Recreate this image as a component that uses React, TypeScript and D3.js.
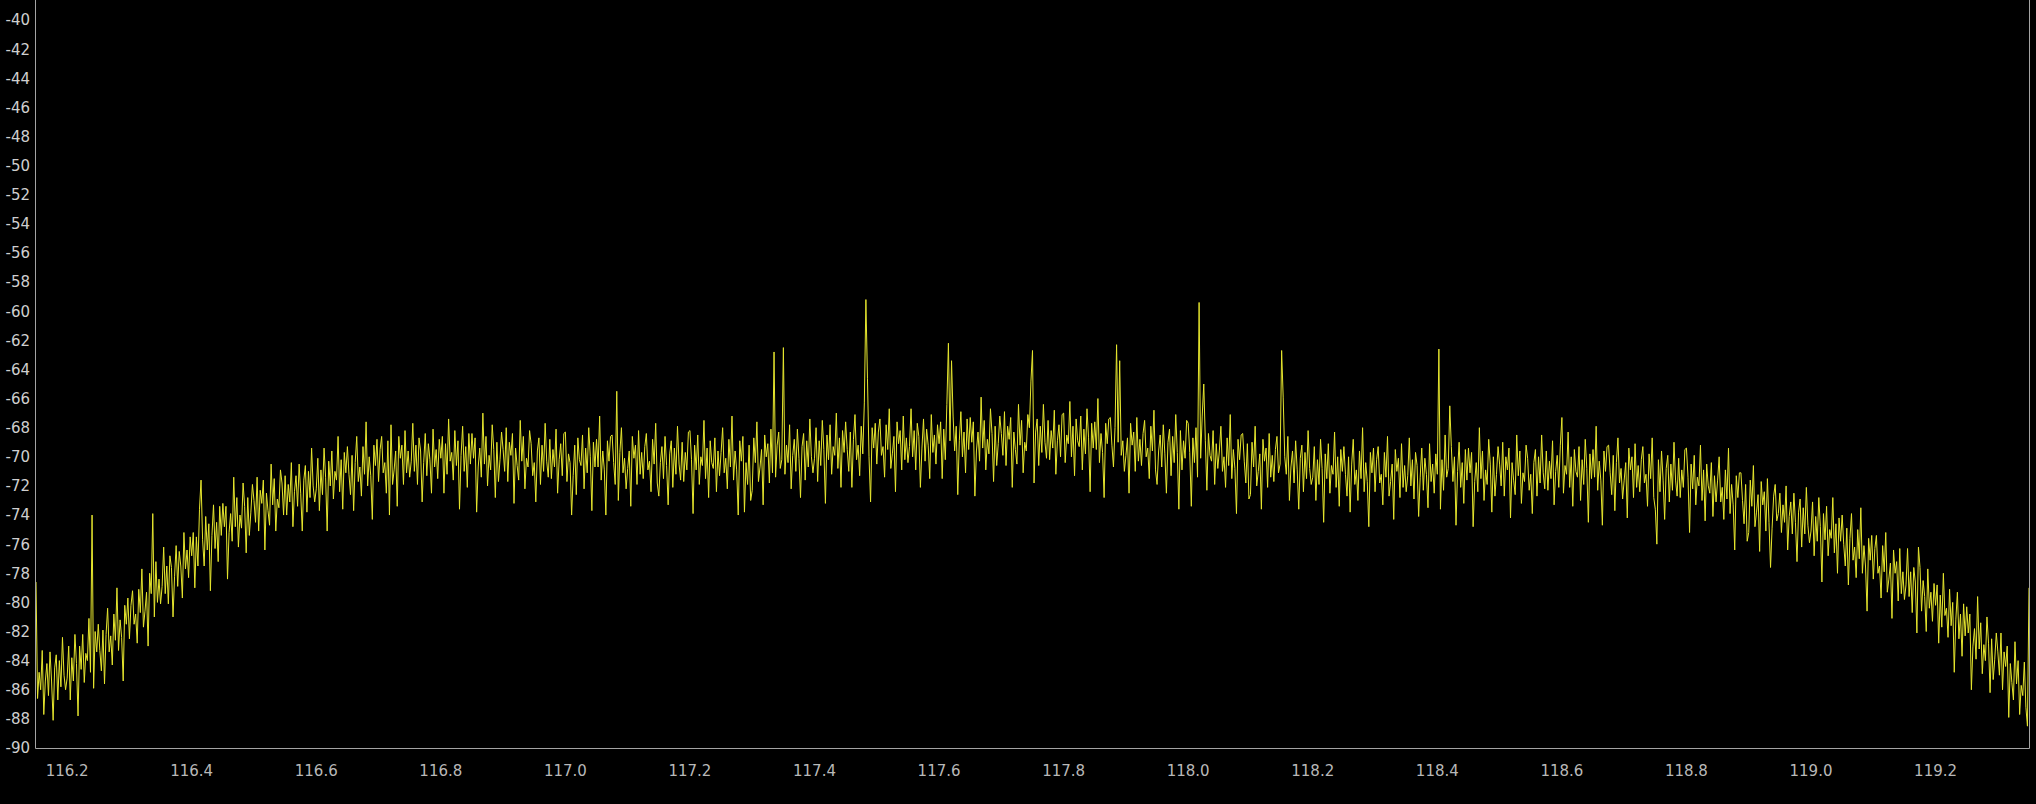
import React, { useEffect } from 'react';
import * as d3 from 'd3';

// Spectrum sweep: frequency (MHz) sampled every FREQ_STEP from FREQ_START, power in dB
const FREQ_START = 116.15;
const FREQ_STEP = 0.0025;
const FREQ_END = 119.35;

const powerDb: number[] = [
  -78.6,-86.6,-84.8,-86.0,-83.3,-87.7,-85.4,-84.2,-86.4,-83.4,-85.4,-88.1,-84.5,-83.6,-86.7,-84.0,-85.8,-82.4,-85.0,-86.0,
  -85.2,-83.0,-86.7,-83.8,-85.4,-82.2,-84.2,-87.8,-83.0,-84.6,-82.2,-85.5,-83.5,-84.0,-81.1,-84.8,-74.0,-85.9,-82.0,-83.4,
  -81.5,-83.3,-84.7,-81.9,-85.6,-82.2,-80.4,-83.4,-82.3,-84.3,-80.8,-82.6,-79.0,-83.3,-81.2,-82.4,-85.4,-80.2,-81.5,-79.7,
  -82.5,-80.2,-79.2,-81.5,-80.8,-82.8,-79.1,-80.7,-77.7,-81.7,-80.6,-79.3,-83.0,-78.0,-79.4,-73.9,-81.0,-77.2,-80.0,-78.4,
  -80.1,-78.9,-76.2,-79.4,-77.5,-80.1,-76.8,-77.6,-81.0,-78.2,-76.1,-78.9,-76.5,-77.5,-79.7,-75.2,-77.7,-76.4,-78.3,-75.5,
  -76.8,-75.2,-79.0,-75.5,-77.5,-73.6,-71.6,-75.7,-77.5,-74.1,-76.4,-74.6,-79.2,-75.4,-73.3,-76.3,-74.5,-77.2,-73.4,-75.4,
  -73.2,-74.8,-73.4,-78.4,-75.2,-73.9,-75.8,-71.4,-74.8,-72.8,-76.2,-74.0,-74.9,-71.8,-73.4,-76.6,-72.8,-75.4,-73.8,-71.9,
  -73.0,-74.5,-71.4,-75.1,-72.3,-73.2,-71.6,-76.4,-72.5,-73.7,-74.7,-70.5,-73.3,-71.5,-75.1,-72.9,-73.5,-70.9,-71.8,-74.0,
  -71.3,-74.0,-71.9,-73.1,-70.4,-74.8,-72.4,-71.3,-73.4,-70.5,-72.5,-75.1,-71.6,-70.6,-73.8,-71.0,-72.8,-69.4,-72.0,-73.1,
  -72.2,-70.1,-73.7,-70.9,-72.6,-69.4,-71.4,-75.1,-70.3,-72.0,-69.6,-72.9,-71.0,-71.6,-68.6,-72.4,-70.2,-73.6,-69.7,-71.1,
  -69.3,-71.2,-72.6,-69.9,-73.7,-70.4,-68.6,-71.7,-70.7,-72.7,-69.3,-71.2,-67.6,-72.0,-70.0,-71.3,-74.3,-69.2,-70.6,-68.8,
  -71.7,-69.5,-68.6,-71.1,-70.4,-72.5,-68.9,-74.0,-67.8,-71.9,-70.9,-69.6,-73.4,-68.6,-70.1,-69.2,-71.9,-68.2,-71.1,-69.6,
  -71.4,-70.3,-67.7,-71.0,-69.2,-71.9,-68.7,-69.6,-73.1,-70.4,-68.4,-71.3,-69.1,-70.2,-72.5,-68.1,-70.7,-69.5,-71.5,-68.8,
  -70.1,-68.6,-72.5,-69.1,-71.2,-67.4,-70.3,-69.7,-71.6,-68.2,-70.6,-68.9,-73.6,-69.9,-67.9,-71.0,-69.3,-72.1,-68.4,-70.5,
  -68.4,-70.1,-68.7,-73.8,-70.7,-69.4,-71.4,-67.0,-70.5,-68.6,-72.0,-69.9,-70.9,-67.8,-69.5,-72.8,-69.0,-71.7,-70.2,-68.3,
  -69.5,-71.0,-68.0,-71.7,-69.0,-69.9,-68.4,-73.2,-69.4,-70.6,-71.6,-67.5,-70.3,-68.6,-72.2,-70.1,-70.7,-68.2,-69.1,-71.3,
  -70.4,-73.1,-69.6,-68.7,-71.9,-69.2,-71.0,-67.7,-70.3,-71.4,-68.8,-71.5,-69.5,-70.7,-68.1,-72.5,-70.2,-69.1,-71.3,-68.4,
  -68.3,-71.7,-69.8,-70.4,-74.0,-71.3,-69.2,-72.6,-68.7,-70.2,-70.6,-68.5,-72.2,-69.4,-71.1,-68.0,-70.0,-73.7,-69.0,-70.7,
  -68.8,-70.7,-67.2,-71.6,-69.6,-70.9,-74.0,-68.9,-70.3,-68.6,-68.5,-70.4,-71.9,-65.5,-73.0,-69.7,-68.0,-71.1,-70.1,-72.2,
  -70.8,-69.6,-73.4,-68.6,-70.1,-69.2,-71.9,-68.2,-71.2,-69.7,-71.5,-69.3,-68.4,-70.9,-70.3,-72.4,-68.8,-70.5,-67.7,-71.8,
  -72.7,-70.4,-69.3,-71.5,-68.6,-70.6,-73.3,-69.8,-68.9,-72.1,-69.4,-71.2,-67.9,-70.5,-71.6,-69.0,-71.7,-69.7,-70.9,-68.3,
  -68.2,-70.2,-73.9,-69.2,-70.9,-68.5,-71.9,-70.0,-70.6,-67.5,-71.5,-69.4,-72.8,-68.9,-70.4,-70.8,-68.7,-72.4,-69.6,-71.3,
  -69.7,-68.0,-71.1,-70.1,-72.2,-68.8,-70.7,-67.2,-71.6,-69.6,-70.9,-74.0,-68.9,-70.3,-68.6,-73.8,-70.4,-71.9,-69.2,-73.0,
  -72.3,-68.7,-70.4,-67.6,-71.7,-70.7,-69.5,-73.3,-68.5,-70.0,-69.1,-71.8,-68.1,-71.1,-62.8,-71.4,-69.2,-68.3,-70.8,-70.2,
  -62.5,-71.2,-69.2,-70.4,-67.8,-72.2,-69.9,-68.8,-71.0,-68.1,-70.1,-72.8,-69.3,-68.4,-71.6,-68.9,-70.7,-67.4,-70.0,-71.1,
  -70.1,-68.0,-71.7,-68.9,-70.6,-67.5,-69.5,-73.2,-68.5,-70.2,-67.8,-71.2,-69.3,-69.9,-67.0,-70.8,-68.7,-72.1,-68.2,-69.7,
  -67.6,-69.5,-71.0,-68.3,-72.1,-68.8,-67.1,-70.2,-69.2,-71.3,-67.9,-69.8,-66.3,-59.2,-64.6,-70.0,-73.1,-68.0,-69.4,-67.7,
  -70.5,-68.3,-67.4,-69.9,-69.3,-71.4,-67.8,-69.5,-66.7,-70.8,-69.8,-68.6,-72.4,-67.6,-69.1,-68.2,-70.9,-67.2,-70.2,-68.7,
  -70.4,-69.3,-66.7,-70.0,-68.2,-70.9,-67.7,-68.6,-72.1,-69.4,-67.4,-70.3,-68.1,-69.2,-71.5,-67.1,-69.7,-68.5,-70.5,-67.8,
  -69.1,-67.6,-71.5,-68.1,-70.2,-66.4,-62.2,-68.9,-63.4,-67.2,-69.6,-67.9,-72.6,-68.9,-66.9,-70.0,-68.3,-71.1,-67.4,-69.5,
  -67.3,-69.0,-67.6,-72.7,-69.6,-68.3,-70.3,-65.9,-69.4,-67.5,-70.9,-68.8,-69.8,-66.7,-68.4,-71.7,-67.9,-70.6,-69.1,-67.2,
  -68.4,-69.9,-66.9,-70.6,-67.9,-68.8,-67.3,-72.1,-68.3,-69.5,-70.5,-66.4,-69.2,-67.5,-71.1,-69.0,-69.6,-67.1,-68.0,-64.8,
  -62.7,-71.8,-68.3,-67.4,-70.6,-67.9,-69.7,-66.4,-69.0,-70.1,-67.5,-70.2,-68.2,-69.4,-66.8,-71.2,-68.9,-67.8,-70.0,-67.1,
  -67.0,-70.4,-68.5,-69.1,-66.2,-70.0,-67.9,-71.3,-67.4,-68.9,-69.3,-67.2,-70.9,-68.1,-69.8,-66.7,-68.7,-72.4,-67.7,-69.4,
  -67.6,-69.5,-66.0,-70.4,-68.4,-69.7,-72.8,-67.7,-69.1,-67.4,-67.3,-69.2,-70.7,-68.0,-62.3,-69.0,-63.4,-69.9,-68.9,-71.0,
  -69.9,-68.7,-72.5,-67.7,-69.2,-68.3,-71.0,-67.3,-70.3,-68.8,-70.6,-68.4,-67.5,-70.0,-69.4,-71.5,-67.9,-69.6,-66.8,-70.9,
  -71.9,-69.6,-68.5,-70.7,-67.8,-69.8,-72.5,-69.0,-68.1,-71.3,-68.6,-70.4,-67.1,-69.7,-73.6,-68.2,-70.9,-68.9,-70.1,-67.5,
  -67.7,-69.7,-73.4,-68.7,-70.4,-68.0,-71.4,-59.4,-70.1,-67.2,-65.0,-68.9,-72.3,-68.4,-69.9,-70.3,-68.2,-71.9,-69.1,-70.8,
  -69.6,-67.9,-71.0,-70.0,-72.1,-68.7,-70.6,-67.1,-71.5,-69.5,-70.8,-73.9,-68.8,-70.2,-68.5,-68.4,-70.3,-71.8,-69.1,-72.9,
  -72.6,-69.0,-70.7,-67.9,-72.0,-71.0,-69.8,-73.6,-68.8,-70.3,-69.4,-72.1,-68.4,-71.4,-69.9,-71.7,-69.5,-68.6,-71.1,-70.5,
  -62.7,-65.9,-70.0,-71.2,-68.6,-73.0,-70.7,-69.6,-71.8,-68.9,-70.9,-73.6,-70.1,-69.2,-72.4,-69.7,-71.5,-68.2,-70.8,-71.9,
  -71.4,-69.3,-73.0,-70.2,-71.9,-68.8,-70.8,-74.5,-69.8,-71.5,-69.1,-72.5,-70.6,-71.2,-68.3,-72.1,-70.0,-73.4,-69.5,-71.0,
  -69.3,-71.2,-72.7,-70.0,-73.8,-70.5,-68.8,-71.9,-70.9,-73.0,-69.6,-71.5,-68.0,-72.4,-70.4,-71.7,-74.8,-69.7,-71.1,-69.4,
  -72.4,-70.2,-69.3,-71.8,-71.2,-73.3,-69.7,-71.4,-68.6,-72.7,-71.7,-70.5,-74.3,-69.5,-71.0,-70.1,-72.8,-69.1,-72.1,-70.6,
  -72.4,-71.3,-68.7,-72.0,-70.2,-72.9,-69.7,-70.6,-74.1,-71.4,-69.4,-72.3,-70.1,-71.2,-73.5,-69.1,-71.7,-70.5,-72.5,-69.8,
  -71.2,-62.6,-73.6,-70.2,-72.3,-68.5,-71.4,-70.8,-66.5,-69.3,-71.7,-70.0,-74.7,-71.0,-69.0,-72.1,-70.4,-73.2,-69.5,-71.6,
  -69.4,-71.1,-69.7,-74.8,-71.7,-70.4,-72.4,-68.0,-71.5,-69.6,-73.0,-70.9,-71.9,-68.8,-70.5,-73.8,-70.0,-72.7,-71.2,-69.3,
  -70.5,-72.0,-69.0,-72.7,-70.0,-70.9,-69.4,-74.2,-70.4,-71.6,-72.6,-68.5,-71.3,-69.6,-73.2,-71.1,-71.7,-69.2,-70.1,-72.3,
  -71.2,-73.9,-70.4,-69.5,-72.7,-70.0,-71.8,-68.5,-71.1,-72.2,-69.6,-72.3,-70.3,-71.5,-68.9,-73.3,-71.0,-69.9,-72.1,-69.2,
  -67.3,-72.5,-70.6,-71.2,-68.3,-72.1,-70.0,-73.4,-69.5,-71.0,-71.4,-69.3,-73.0,-70.2,-71.9,-68.8,-70.8,-74.5,-69.8,-71.5,
  -69.5,-71.4,-67.9,-72.3,-70.3,-71.6,-74.7,-69.6,-71.0,-69.3,-69.2,-71.1,-72.6,-69.9,-73.7,-70.4,-68.7,-71.8,-70.8,-72.9,
  -71.6,-70.4,-74.2,-69.4,-70.9,-70.0,-72.8,-69.1,-72.1,-70.6,-72.4,-70.2,-69.3,-71.8,-71.2,-73.4,-69.8,-71.5,-68.7,-72.8,
  -73.6,-76.0,-70.2,-72.4,-69.6,-71.6,-74.3,-70.8,-69.9,-73.1,-70.5,-72.3,-69.0,-71.6,-72.7,-70.1,-72.8,-70.9,-72.1,-69.5,
  -69.4,-71.4,-75.2,-70.5,-72.2,-69.9,-73.3,-71.4,-72.0,-69.2,-73.0,-70.9,-74.4,-70.5,-72.0,-72.5,-70.4,-74.1,-71.3,-73.1,
  -71.6,-70.0,-73.1,-72.1,-74.3,-70.9,-72.9,-69.4,-73.9,-71.9,-73.3,-76.4,-71.3,-72.8,-71.1,-71.1,-73.0,-74.6,-71.9,-75.8,
  -75.2,-71.6,-73.4,-70.6,-74.8,-73.8,-72.6,-76.5,-71.7,-73.3,-72.4,-75.1,-71.5,-74.5,-77.6,-74.9,-72.7,-71.9,-74.4,-73.9,
  -72.5,-75.2,-73.3,-74.5,-72.0,-76.4,-74.1,-73.1,-75.3,-72.5,-74.5,-77.2,-73.8,-72.9,-76.2,-73.5,-75.3,-72.1,-74.7,-75.9,
  -75.1,-73.1,-76.8,-74.1,-75.8,-72.8,-74.8,-78.6,-73.9,-75.7,-73.4,-76.8,-75.0,-75.6,-72.8,-76.6,-74.6,-78.0,-74.2,-75.8,
  -74.0,-76.0,-77.5,-74.9,-78.8,-75.6,-73.9,-77.1,-76.2,-78.3,-75.0,-77.0,-73.5,-78.0,-76.1,-77.5,-80.6,-75.6,-77.1,-75.4,
  -78.4,-76.3,-75.4,-78.0,-77.5,-79.7,-76.1,-77.9,-75.2,-79.3,-78.4,-77.3,-81.1,-76.4,-78.0,-77.2,-79.9,-76.3,-79.4,-77.9,
  -79.8,-78.8,-76.3,-79.6,-77.9,-80.7,-77.6,-78.6,-82.1,-76.2,-77.6,-80.6,-78.5,-79.6,-82.0,-77.7,-80.4,-79.3,-81.3,-78.7,
  -80.2,-78.8,-82.8,-79.5,-81.7,-78.0,-80.9,-80.4,-82.4,-79.1,-81.6,-80.0,-84.8,-81.2,-79.3,-82.5,-80.8,-83.7,-80.1,-82.3,
  -80.3,-82.1,-80.8,-86.0,-83.0,-81.8,-83.9,-79.6,-83.2,-81.4,-84.9,-82.9,-84.0,-81.0,-82.8,-86.2,-82.5,-85.3,-83.9,-82.1,
  -83.4,-85.0,-82.1,-86.0,-83.4,-84.4,-83.0,-87.9,-84.2,-85.5,-86.7,-82.7,-85.6,-84.0,-87.7,-85.7,-86.4,-84.1,-87.2,-88.5,
  -79.0,
];

const xTickValues = [116.2, 116.4, 116.6, 116.8, 117.0, 117.2, 117.4, 117.6, 117.8, 118.0, 118.2, 118.4, 118.6, 118.8, 119.0, 119.2];
const yTickValues = [-90, -88, -86, -84, -82, -80, -78, -76, -74, -72, -70, -68, -66, -64, -62, -60, -58, -56, -54, -52, -50, -48, -46, -44, -42, -40];

const W = 2036;
const H = 804;
const PLOT_LEFT = 36;
const PLOT_RIGHT = 2029;
const PLOT_BOTTOM = 748;

export default function App() {
  useEffect(() => {
    document.body.style.margin = '0';
    document.body.style.background = '#000';
  }, []);

  const x = d3.scaleLinear().domain([FREQ_START, FREQ_END]).range([PLOT_LEFT, PLOT_RIGHT]);
  const y = d3.scaleLinear().domain([-90, -40]).range([PLOT_BOTTOM, 20]);

  const line = d3
    .line<number>()
    .x((_, i) => x(FREQ_START + i * FREQ_STEP))
    .y((d) => y(d));

  const axisColor = '#a4a4a4';
  const font = '"DejaVu Sans", Verdana, sans-serif';

  return (
    <svg
      width={W}
      height={H}
      style={{ position: 'absolute', left: 0, top: 0, display: 'block', background: '#000' }}
    >
      <rect x={0} y={0} width={W} height={H} fill="#000" />
      <path d={line(powerDb) || ''} fill="none" stroke="#e6e62e" strokeWidth={1} />
      {/* frame */}
      <line x1={PLOT_LEFT - 0.5} x2={PLOT_LEFT - 0.5} y1={0} y2={PLOT_BOTTOM + 0.5} stroke={axisColor} strokeWidth={1} />
      <line x1={PLOT_RIGHT + 0.5} x2={PLOT_RIGHT + 0.5} y1={0} y2={PLOT_BOTTOM + 0.5} stroke={axisColor} strokeWidth={1} />
      <line x1={PLOT_LEFT - 0.5} x2={PLOT_RIGHT + 0.5} y1={PLOT_BOTTOM + 0.5} y2={PLOT_BOTTOM + 0.5} stroke={axisColor} strokeWidth={1} />
      {/* y tick labels */}
      {yTickValues.map((v) => (
        <text
          key={'y' + v}
          x={30}
          y={y(v)}
          dy="0.36em"
          textAnchor="end"
          fill="#cfcfcf"
          fontSize={15}
          fontFamily={font}
        >
          {v}
        </text>
      ))}
      {/* x tick labels */}
      {xTickValues.map((v) => (
        <text
          key={'x' + v}
          x={x(v)}
          y={775.5}
          textAnchor="middle"
          fill="#b8b8b8"
          fontSize={15}
          fontFamily={font}
        >
          {v.toFixed(1)}
        </text>
      ))}
    </svg>
  );
}
